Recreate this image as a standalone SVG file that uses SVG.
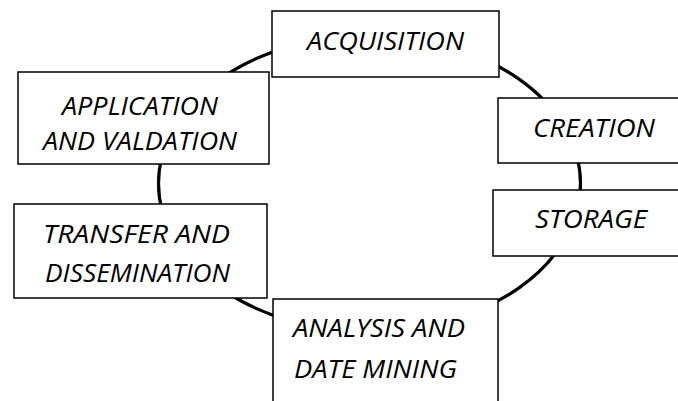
<svg xmlns="http://www.w3.org/2000/svg" width="678" height="401" viewBox="0 0 678 401">
<style>
.box{fill:#fff;stroke:#000;stroke-width:1.5}
.lbl{font-family:"Open Sans","Liberation Sans",sans-serif;font-style:italic;font-size:26px;fill:#000}
.ring{fill:none;stroke:#000;stroke-width:3.2}
</style>
<rect width="678" height="401" fill="#fff"/>
<g id="connectors">
<ellipse class="ring" cx="369.5" cy="183.5" rx="211" ry="148"/>
</g>
<g id="acquisition">
<rect class="box" x="272" y="11" width="227" height="66"/>
<text class="lbl" x="307" y="50" textLength="157" lengthAdjust="spacingAndGlyphs">ACQUISITION</text>
</g>
<g id="application">
<rect class="box" x="18" y="72" width="251" height="92"/>
<text class="lbl" x="62" y="115" textLength="156" lengthAdjust="spacingAndGlyphs">APPLICATION</text>
<text class="lbl" x="43" y="150" textLength="194" lengthAdjust="spacingAndGlyphs">AND VALDATION</text>
</g>
<g id="creation">
<rect class="box" x="498" y="98" width="190" height="65"/>
<text class="lbl" x="533" y="137" textLength="122" lengthAdjust="spacingAndGlyphs">CREATION</text>
</g>
<g id="storage">
<rect class="box" x="493" y="190" width="195" height="66"/>
<text class="lbl" x="535" y="228" textLength="112" lengthAdjust="spacingAndGlyphs">STORAGE</text>
</g>
<g id="transfer">
<rect class="box" x="14" y="204" width="253" height="94"/>
<text class="lbl" x="43" y="243" textLength="187" lengthAdjust="spacingAndGlyphs">TRANSFER AND</text>
<text class="lbl" x="45" y="282" textLength="185" lengthAdjust="spacingAndGlyphs">DISSEMINATION</text>
</g>
<g id="analysis">
<rect class="box" x="273" y="299" width="225" height="120"/>
<text class="lbl" x="293" y="337" textLength="172" lengthAdjust="spacingAndGlyphs">ANALYSIS AND</text>
<text class="lbl" x="294" y="378" textLength="163" lengthAdjust="spacingAndGlyphs">DATE MINING</text>
</g>
</svg>
